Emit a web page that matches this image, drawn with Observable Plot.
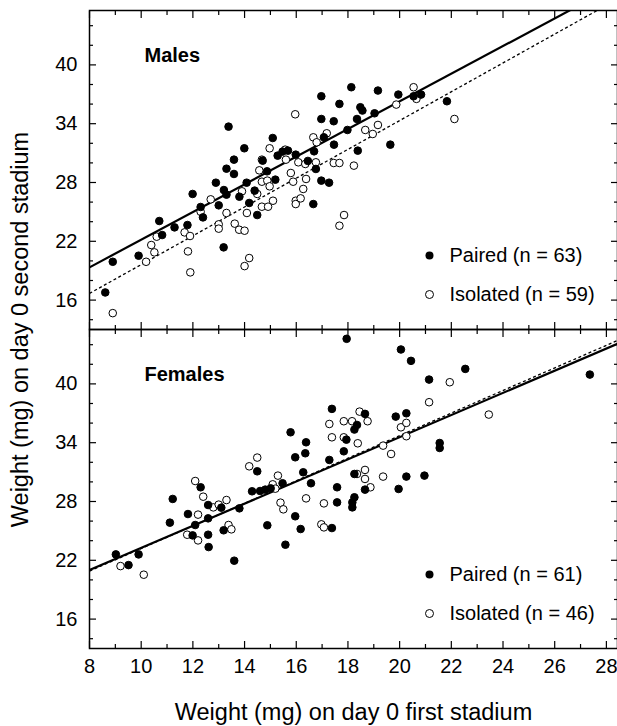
<!DOCTYPE html>
<html>
<head>
<meta charset="utf-8">
<script src="https://cdn.jsdelivr.net/npm/d3@7"></script>
<script src="https://cdn.jsdelivr.net/npm/@observablehq/plot@0.6"></script>
<style>
  html, body { margin: 0; padding: 0; background: #fff; }
  #chart { width: 617px; height: 726px; }
</style>
</head>
<body>
<div id="chart"></div>
<script>
// ---- Data (x: first stadium weight, y: second stadium weight, mg) ----
const malesPaired = [
  [8.61,16.78],[8.90,19.91],[9.90,20.53],[10.70,24.07],[10.81,22.64],[11.29,23.42],[11.79,23.66],
  [11.99,26.83],[12.30,25.50],[12.39,24.44],[12.89,27.98],[13.00,25.67],[13.19,21.38],[13.20,27.23],
  [13.30,26.76],[13.30,29.41],[13.38,33.70],[13.59,30.33],[13.59,28.87],[13.80,26.55],[13.99,31.49],
  [14.08,27.98],[14.18,25.91],[14.39,27.17],[14.49,24.68],[14.70,30.23],[14.87,29.14],[15.09,32.54],
  [15.19,28.29],[15.28,30.74],[15.47,31.15],[15.68,31.25],[15.98,30.84],[16.45,30.20],[16.66,25.80],
  [16.69,31.18],[16.76,29.38],[16.97,36.80],[16.97,34.48],[16.97,28.19],[17.07,32.61],[17.27,27.98],
  [17.45,34.25],[17.46,31.86],[17.67,36.02],[17.98,33.36],[18.13,37.72],[18.35,34.48],[18.38,31.25],
  [18.48,35.68],[18.56,35.34],[19.03,35.06],[19.16,37.38],[19.64,31.86],[19.95,36.97],[20.54,36.80],
  [20.83,36.97],[21.83,36.29]
];
const malesIsolated = [
  [8.90,14.67],[10.19,19.91],[10.39,21.62],[10.51,20.87],[10.60,22.47],[11.68,22.91],[11.81,20.97],
  [11.89,22.54],[11.90,18.83],[12.30,25.02],[12.69,26.28],[13.00,23.73],[13.00,23.29],[13.30,24.89],
  [13.62,23.80],[13.79,23.18],[13.90,27.10],[14.00,23.08],[14.00,19.47],[14.09,24.89],[14.18,20.29],
  [14.49,26.83],[14.57,29.24],[14.67,30.33],[14.67,28.08],[14.67,25.53],[14.88,28.19],[14.91,25.53],
  [14.97,31.49],[14.97,27.61],[15.10,26.14],[15.57,31.35],[15.60,30.33],[15.79,28.97],[15.88,28.08],
  [15.96,34.96],[15.98,26.14],[15.98,25.80],[16.08,30.06],[16.17,26.38],[16.27,27.34],[16.35,29.89],
  [16.38,28.36],[16.66,32.61],[16.76,30.06],[16.79,32.10],[17.18,33.02],[17.45,29.99],[17.67,29.99],
  [17.67,23.59],[17.85,24.68],[18.23,29.72],[18.67,33.36],[18.96,32.95],[19.16,33.87],[19.87,35.95],
  [20.54,37.72],[20.65,36.53],[22.12,34.48]
];
const femalesPaired = [
  [9.02,22.60],[9.51,21.51],[9.90,22.60],[11.22,28.26],[11.11,25.84],[11.81,26.72],[11.99,24.54],
  [12.09,25.60],[12.30,29.45],[12.59,27.64],[12.59,26.28],[12.59,24.61],[12.61,23.35],[13.10,27.37],
  [13.19,25.06],[13.60,21.96],[13.80,27.30],[14.29,29.04],[14.49,31.08],[14.60,29.07],[14.80,29.21],
  [14.88,25.57],[15.01,29.34],[15.47,29.86],[15.58,23.59],[15.78,35.06],[15.96,32.51],[15.96,26.49],
  [16.17,25.19],[16.27,30.98],[16.35,32.92],[16.38,34.04],[16.57,29.86],[17.28,32.24],[17.38,37.45],
  [17.38,25.29],[17.58,29.45],[17.58,27.91],[17.84,33.12],[17.95,44.60],[17.94,34.31],[18.25,35.34],
  [18.35,35.81],[18.25,30.81],[18.25,28.43],[18.17,27.91],[18.17,27.40],[18.66,36.94],[18.66,29.21],
  [19.85,36.66],[19.96,29.28],[20.05,43.51],[20.26,37.00],[20.26,30.54],[20.44,42.35],[20.96,30.64],
  [21.14,40.44],[21.55,33.97],[21.55,33.46],[22.54,41.53],[27.36,40.95]
];
const femalesIsolated = [
  [9.20,21.41],[10.10,20.53],[11.78,24.61],[12.09,30.09],[12.20,26.66],[12.20,24.03],[12.40,28.49],
  [12.79,27.40],[13.00,27.68],[13.30,28.15],[13.38,25.60],[13.49,25.16],[14.18,31.59],[14.49,32.48],
  [15.09,29.75],[15.19,29.31],[15.29,30.64],[15.39,27.88],[15.50,27.20],[16.38,28.32],[16.97,25.67],
  [17.07,25.36],[17.07,27.81],[17.28,35.91],[17.38,34.55],[17.84,36.19],[17.84,34.55],[18.16,36.19],
  [18.45,37.17],[18.76,36.19],[18.38,33.94],[18.35,30.81],[18.66,31.22],[18.66,30.30],[18.87,29.45],
  [19.36,33.70],[19.36,30.54],[19.67,32.85],[20.05,35.57],[20.26,36.02],[20.26,34.66],[21.14,38.13],
  [21.94,40.17],[23.45,36.87]
];

// Regression lines (endpoints at the x-axis limits)
const fitSex   = ["Males", "Males", "Females", "Females"];
const fitGroup = ["Paired", "Isolated", "Paired", "Isolated"];
const fitX1    = [8, 8, 8, 8];
const fitY1    = [19.34, 16.68, 21.0, 20.9];
const fitX2    = [28.43, 28.43, 28.43, 28.43];
const fitY2    = [48.17, 46.71, 44.09, 44.43];

// Panels, legend text and axis ticks
const panels       = ["Males", "Females"];
const legendLabels = {
  Males:   {Paired: "Paired (n = 63)", Isolated: "Isolated (n = 59)"},
  Females: {Paired: "Paired (n = 61)", Isolated: "Isolated (n = 46)"}
};
const xMajor = [8, 10, 12, 14, 16, 18, 20, 22, 24, 26, 28];
const xMinor = [9, 11, 13, 15, 17, 19, 21, 23, 25, 27];
const yMajor = [16, 22, 28, 34, 40];
const yMinor = [14, 18, 20, 24, 26, 30, 32, 36, 38, 42, 44];
const xTitle = "Weight (mg) on day 0 first stadium";
const yTitle = "Weight (mg) on day 0 second stadium";

// ---- Build tables ----
const toRows = (arr, sex, group) => arr.map(([x, y]) => ({sex, group, x, y}));
const points = [
  ...toRows(malesPaired, "Males", "Paired"),
  ...toRows(malesIsolated, "Males", "Isolated"),
  ...toRows(femalesPaired, "Females", "Paired"),
  ...toRows(femalesIsolated, "Females", "Isolated")
];
const fits = fitSex.map((sex, i) => ({sex, group: fitGroup[i], x1: fitX1[i], y1: fitY1[i], x2: fitX2[i], y2: fitY2[i]}));
const legend = panels.flatMap(sex => ["Paired", "Isolated"].map(group => ({sex, group, label: legendLabels[sex][group]})));
const panelRows = panels.map(sex => ({sex}));

const tickOpts = {facetAnchor: null, tickFormat: () => "", label: null, strokeWidth: 1.2};

const chart = Plot.plot({
  width: 617,
  height: 726,
  marginLeft: 89,
  marginRight: 0,
  marginTop: 10,
  marginBottom: 78,
  style: {fontFamily: "'Liberation Sans', Arial, Helvetica, sans-serif", fontSize: "20px", color: "black", background: "white"},
  x: {domain: [8, 28.43]},
  y: {domain: [13, 45.55]},
  fy: {domain: panels, padding: 0, axis: null, label: null},
  marks: [
    // inward ticks on all four sides of each panel
    Plot.axisX(xMajor, {anchor: "bottom", tickSize: -7, ...tickOpts}),
    Plot.axisX(xMajor, {anchor: "top", tickSize: -7, ...tickOpts}),
    Plot.axisX(xMinor, {anchor: "bottom", tickSize: -4, ...tickOpts}),
    Plot.axisX(xMinor, {anchor: "top", tickSize: -4, ...tickOpts}),
    Plot.axisY(yMajor, {anchor: "left", tickSize: -7, ...tickOpts}),
    Plot.axisY(yMajor, {anchor: "right", tickSize: -7, ...tickOpts}),
    Plot.axisY(yMinor, {anchor: "left", tickSize: -4, ...tickOpts}),
    Plot.axisY(yMinor, {anchor: "right", tickSize: -4, ...tickOpts}),
    // tick labels
    Plot.axisX(xMajor, {anchor: "bottom", tickSize: 0, tickPadding: 10, label: null, fontSize: 20}),
    Plot.axisY(yMajor, {anchor: "left", tickSize: 0, tickPadding: 12, label: null, fontSize: 20}),
    // regression lines
    Plot.link(fits.filter(d => d.group === "Paired"), {x1: "x1", y1: "y1", x2: "x2", y2: "y2", fy: "sex", stroke: "black", strokeWidth: 2.2, clip: true}),
    Plot.link(fits.filter(d => d.group === "Isolated"), {x1: "x1", y1: "y1", x2: "x2", y2: "y2", fy: "sex", stroke: "black", strokeWidth: 1.3, strokeDasharray: "3,2.5", clip: true}),
    // points
    Plot.dot(points.filter(d => d.group === "Isolated"), {x: "x", y: "y", fy: "sex", r: 3.8, fill: "white", stroke: "black", strokeWidth: 1}),
    Plot.dot(points.filter(d => d.group === "Paired"), {x: "x", y: "y", fy: "sex", r: 3.8, fill: "black", stroke: "black", strokeWidth: 1}),
    // frame
    Plot.frame({stroke: "black", strokeWidth: 1.5}),
    // panel titles
    Plot.text(panelRows, {fy: "sex", text: "sex", frameAnchor: "top-left", dx: 55, dy: 45, textAnchor: "start", lineAnchor: "middle", fontWeight: "bold", fontSize: 20}),
    // legends
    Plot.dot(legend.filter(d => d.group === "Paired"), {fy: "sex", frameAnchor: "bottom-left", dx: 340, dy: -74, r: 4, fill: "black"}),
    Plot.dot(legend.filter(d => d.group === "Isolated"), {fy: "sex", frameAnchor: "bottom-left", dx: 340, dy: -35, r: 4, fill: "white", stroke: "black", strokeWidth: 1}),
    Plot.text(legend.filter(d => d.group === "Paired"), {fy: "sex", text: "label", frameAnchor: "bottom-left", dx: 360, dy: -74, textAnchor: "start", lineAnchor: "middle", fontSize: 20}),
    Plot.text(legend.filter(d => d.group === "Isolated"), {fy: "sex", text: "label", frameAnchor: "bottom-left", dx: 360, dy: -35, textAnchor: "start", lineAnchor: "middle", fontSize: 20}),
    // axis titles
    Plot.text([{sex: "Females"}], {fy: "sex", text: () => xTitle, frameAnchor: "bottom", dy: 64, textAnchor: "middle", lineAnchor: "middle", fontSize: 23.5}),
    Plot.text([{sex: "Males"}], {fy: "sex", text: () => yTitle, frameAnchor: "bottom-left", dx: -69, rotate: -90, textAnchor: "middle", lineAnchor: "middle", fontSize: 23.5})
  ]
});
document.getElementById("chart").appendChild(chart);
</script>
</body>
</html>
